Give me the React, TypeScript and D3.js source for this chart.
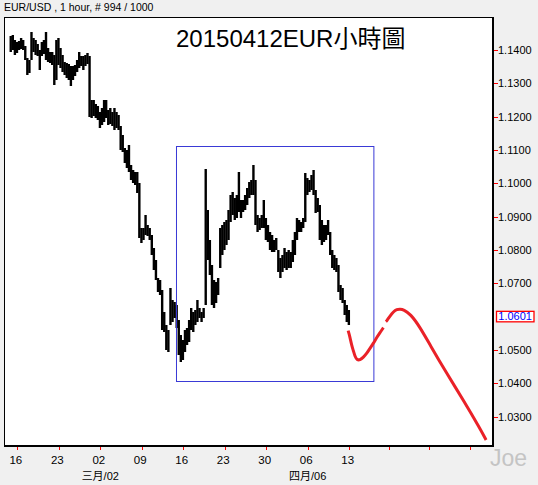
import React from 'react';
import * as d3 from 'd3';

const W = 538;
const H = 485;

const headerText = 'EUR/USD , 1 hour, # 994 / 1000';
const titleText = '20150412EUR小時圖';
const watermark = 'Joe';
const lastPrice = 1.0601;

// Bars: one every 6 trading hours, hour 0 = Mon 16 Feb 00:00 (120 trading hours / week)
const barStartHour = -19;
const barStepHours = 6;
const barHigh = [
  1.1442, 1.1445, 1.1430, 1.1424, 1.1427, 1.1436, 1.1430, 1.1412, 1.1376, 1.1370,
  1.1454, 1.1436, 1.1430, 1.1418, 1.1400, 1.1424, 1.1430, 1.1454, 1.1406, 1.1394,
  1.1394, 1.1385, 1.1430, 1.1436, 1.1406, 1.1385, 1.1364, 1.1361, 1.1358, 1.1352,
  1.1352, 1.1355, 1.1370, 1.1394, 1.1382, 1.1382, 1.1385, 1.1391, 1.1382, 1.1250,
  1.1250, 1.1238, 1.1232, 1.1214, 1.1226, 1.1250, 1.1250, 1.1220, 1.1226, 1.1214,
  1.1226, 1.1214, 1.1205, 1.1172, 1.1145, 1.1106, 1.1100, 1.1115, 1.1055, 1.1040,
  1.1034, 1.1034, 1.1001, 1.0866, 1.0866, 1.0905, 1.0875, 1.0866, 1.0845, 1.0806,
  1.0770, 1.0716, 1.0710, 1.0680, 1.0614, 1.0575, 1.0560, 1.0686, 1.0650, 1.0644,
  1.0635, 1.0590, 1.0545, 1.0530, 1.0560, 1.0566, 1.0590, 1.0626, 1.0614, 1.0620,
  1.0650, 1.0626, 1.0614, 1.0626, 1.1043, 1.0920, 1.0830, 1.0755, 1.0710, 1.0704,
  1.0716, 1.0866, 1.0875, 1.0884, 1.0890, 1.0920, 1.0965, 1.0974, 1.0956, 1.0965,
  1.1034, 1.0950, 1.0950, 1.0965, 1.0986, 1.1004, 1.1010, 1.1055, 1.1010, 1.0905,
  1.0896, 1.0905, 1.0950, 1.0896, 1.0875, 1.0854, 1.0845, 1.0830, 1.0836, 1.0800,
  1.0776, 1.0785, 1.0806, 1.0794, 1.0800, 1.0794, 1.0830, 1.0854, 1.0896, 1.0890,
  1.0884, 1.0896, 1.1031, 1.1016, 1.1010, 1.1025, 1.1040, 1.0980, 1.0956, 1.0935,
  1.0890, 1.0875, 1.0875, 1.0890, 1.0854, 1.0800, 1.0785, 1.0776, 1.0755, 1.0695,
  1.0686, 1.0650, 1.0635, 1.0620,
];
const barLow = [
  1.1394, 1.1400, 1.1385, 1.1391, 1.1400, 1.1403, 1.1400, 1.1370, 1.1325, 1.1331,
  1.1370, 1.1394, 1.1385, 1.1382, 1.1340, 1.1382, 1.1388, 1.1370, 1.1364, 1.1361,
  1.1355, 1.1295, 1.1310, 1.1355, 1.1346, 1.1334, 1.1325, 1.1316, 1.1310, 1.1292,
  1.1310, 1.1322, 1.1334, 1.1346, 1.1352, 1.1340, 1.1352, 1.1358, 1.1199, 1.1196,
  1.1202, 1.1196, 1.1190, 1.1166, 1.1175, 1.1184, 1.1196, 1.1175, 1.1178, 1.1172,
  1.1160, 1.1166, 1.1160, 1.1100, 1.1094, 1.1061, 1.1046, 1.1034, 1.1010, 1.1001,
  1.0995, 1.0971, 1.0836, 1.0821, 1.0830, 1.0845, 1.0842, 1.0830, 1.0785, 1.0740,
  1.0710, 1.0674, 1.0665, 1.0560, 1.0554, 1.0500, 1.0494, 1.0575, 1.0584, 1.0596,
  1.0566, 1.0485, 1.0464, 1.0470, 1.0494, 1.0515, 1.0524, 1.0560, 1.0554, 1.0575,
  1.0584, 1.0596, 1.0584, 1.0596, 1.0635, 1.0770, 1.0725, 1.0635, 1.0626, 1.0641,
  1.0665, 1.0746, 1.0785, 1.0800, 1.0815, 1.0830, 1.0884, 1.0905, 1.0890, 1.0896,
  1.0914, 1.0896, 1.0914, 1.0920, 1.0935, 1.0956, 1.0965, 1.0965, 1.0875, 1.0854,
  1.0860, 1.0866, 1.0866, 1.0830, 1.0824, 1.0800, 1.0794, 1.0794, 1.0800, 1.0734,
  1.0716, 1.0734, 1.0746, 1.0740, 1.0746, 1.0746, 1.0764, 1.0785, 1.0830, 1.0854,
  1.0854, 1.0866, 1.0884, 1.0965, 1.0974, 1.0980, 1.0965, 1.0911, 1.0914, 1.0830,
  1.0815, 1.0824, 1.0830, 1.0845, 1.0785, 1.0746, 1.0740, 1.0734, 1.0674, 1.0650,
  1.0641, 1.0605, 1.0584, 1.0575,
];

// Red projected path (two pieces)
const projAHours = [957, 962, 967, 972, 977, 983, 991, 1001, 1011, 1020, 1030, 1040, 1049, 1059];
const projAPrices = [1.0558, 1.0540, 1.0515, 1.0498, 1.0480, 1.0470, 1.0470, 1.0478, 1.0490, 1.0505, 1.0520, 1.0538, 1.0552, 1.0567];
const projBHours = [1066, 1069, 1078, 1088, 1098, 1107, 1118, 1137, 1164, 1194, 1242, 1290, 1338, 1356];
const projBPrices = [1.0585, 1.0588, 1.0602, 1.0615, 1.0622, 1.0623, 1.0621, 1.0608, 1.0570, 1.0515, 1.0430, 1.0350, 1.0265, 1.0230];

// Blue range box
const boxHours = [459, 1030];
const boxPrices = [1.1112, 1.0407];

// Axes
const weekTickHours = [0, 120, 240, 360, 480, 600, 720, 840, 960];
const weekTickLabels = ['16', '23', '02', '09', '16', '23', '30', '06', '13'];
const futureTickHours = [1075, 1192, 1309];
const monthLabelHours = [240, 840];
const monthLabels = ['三月/02', '四月/06'];
const priceTicks = [1.14, 1.13, 1.12, 1.11, 1.10, 1.09, 1.08, 1.07, 1.05, 1.04, 1.03];

const PL = 4, PR = 493, PT = 17, PB = 446;
const FONT = "'Liberation Sans', Arial, 'Noto Sans CJK TC', sans-serif";

export default function App() {
  const x = d3.scaleLinear().domain([-38.5, 1376]).range([PL, PR]);
  const y = d3.scaleLinear().domain([1.0212, 1.1499]).range([PB, PT]);
  const fmt = d3.format('.4f');

  const bars = barHigh.map((hi, i) => ({ h: barStartHour + i * barStepHours, hi, lo: barLow[i] }));
  const line = d3
    .line<[number, number]>()
    .x((d) => x(d[0]))
    .y((d) => y(d[1]))
    .curve(d3.curveBasis);
  const projA = line(projAHours.map((h, i) => [h, projAPrices[i]] as [number, number])) || '';
  const projB = line(projBHours.map((h, i) => [h, projBPrices[i]] as [number, number])) || '';

  const bx0 = x(boxHours[0]);
  const bx1 = x(boxHours[1]);
  const by0 = y(boxPrices[0]);
  const by1 = y(boxPrices[1]);
  const ly = y(lastPrice);

  return (
    <svg
      width={W}
      height={H}
      style={{ position: 'absolute', left: 0, top: 0, display: 'block' }}
      fontFamily={FONT}
    >
      <defs>
        <clipPath id="plotClip">
          <rect x={PL} y={PT} width={PR - PL} height={PB - PT} />
        </clipPath>
      </defs>
      <rect x={0} y={0} width={W} height={H} fill="#f0f0f0" />
      <rect x={PL} y={PT} width={PR - PL} height={PB - PT} fill="#ffffff" />

      <text x={4} y={11} fontSize={10.5} fill="#000">
        {headerText}
      </text>

      <g clipPath="url(#plotClip)">
        {bars.map((b, i) => (
          <line
            key={i}
            x1={x(b.h)}
            x2={x(b.h)}
            y1={y(b.hi)}
            y2={y(b.lo)}
            stroke="#000"
            strokeWidth={2.4}
          />
        ))}
        <rect
          x={bx0 + 0.5}
          y={by0 + 0.5}
          width={bx1 - bx0}
          height={by1 - by0}
          fill="none"
          stroke="#3a3ad6"
          strokeWidth={1}
        />
        <path d={projA} fill="none" stroke="#ea2128" strokeWidth={3} />
        <path d={projB} fill="none" stroke="#ea2128" strokeWidth={3} />
      </g>

      <text x={176} y={46.5} fontSize={24} fill="#000">
        {titleText}
      </text>

      {/* frame */}
      <rect x={PL + 0.5} y={PT + 0.5} width={PR - PL - 1} height={PB - PT - 1} fill="none" stroke="#000" strokeWidth={1} />
      <line x1={PR} x2={PR} y1={PT} y2={PB + 1} stroke="#000" strokeWidth={2} />
      <line x1={PL} x2={PR + 1} y1={PB} y2={PB} stroke="#000" strokeWidth={2} />

      {/* y axis */}
      {priceTicks.map((p) => (
        <g key={p}>
          <line x1={PR + 1} x2={PR + 5} y1={Math.round(y(p)) + 0.5} y2={Math.round(y(p)) + 0.5} stroke="#ff0000" strokeWidth={1} />
          <text x={498} y={y(p) + 4} fontSize={11} fill="#000">
            {fmt(p)}
          </text>
        </g>
      ))}
      <rect x={496.5} y={ly - 5} width={37.5} height={10.5} fill="#fff" stroke="#ff0000" strokeWidth={1.3} />
      <text x={498.3} y={ly + 4} fontSize={11} fill="#0000ff">
        {fmt(lastPrice)}
      </text>

      {/* x axis */}
      {weekTickHours.concat(futureTickHours).map((h) => (
        <line key={'t' + h} x1={Math.round(x(h)) + 0.5} x2={Math.round(x(h)) + 0.5} y1={PB + 1} y2={PB + 4} stroke="#ff0000" strokeWidth={1} />
      ))}
      {weekTickHours.map((h, i) => (
        <text key={'l' + h} x={x(h) - 1.5} y={463.5} fontSize={11.5} textAnchor="middle" fill="#000">
          {weekTickLabels[i]}
        </text>
      ))}
      {monthLabelHours.map((h, i) => (
        <text key={'m' + h} x={x(h)} y={480} fontSize={11} textAnchor="middle" fill="#000">
          {monthLabels[i]}
        </text>
      ))}

      <text x={490} y={466} fontSize={23} fill="#c4c4c4">
        {watermark}
      </text>
    </svg>
  );
}
